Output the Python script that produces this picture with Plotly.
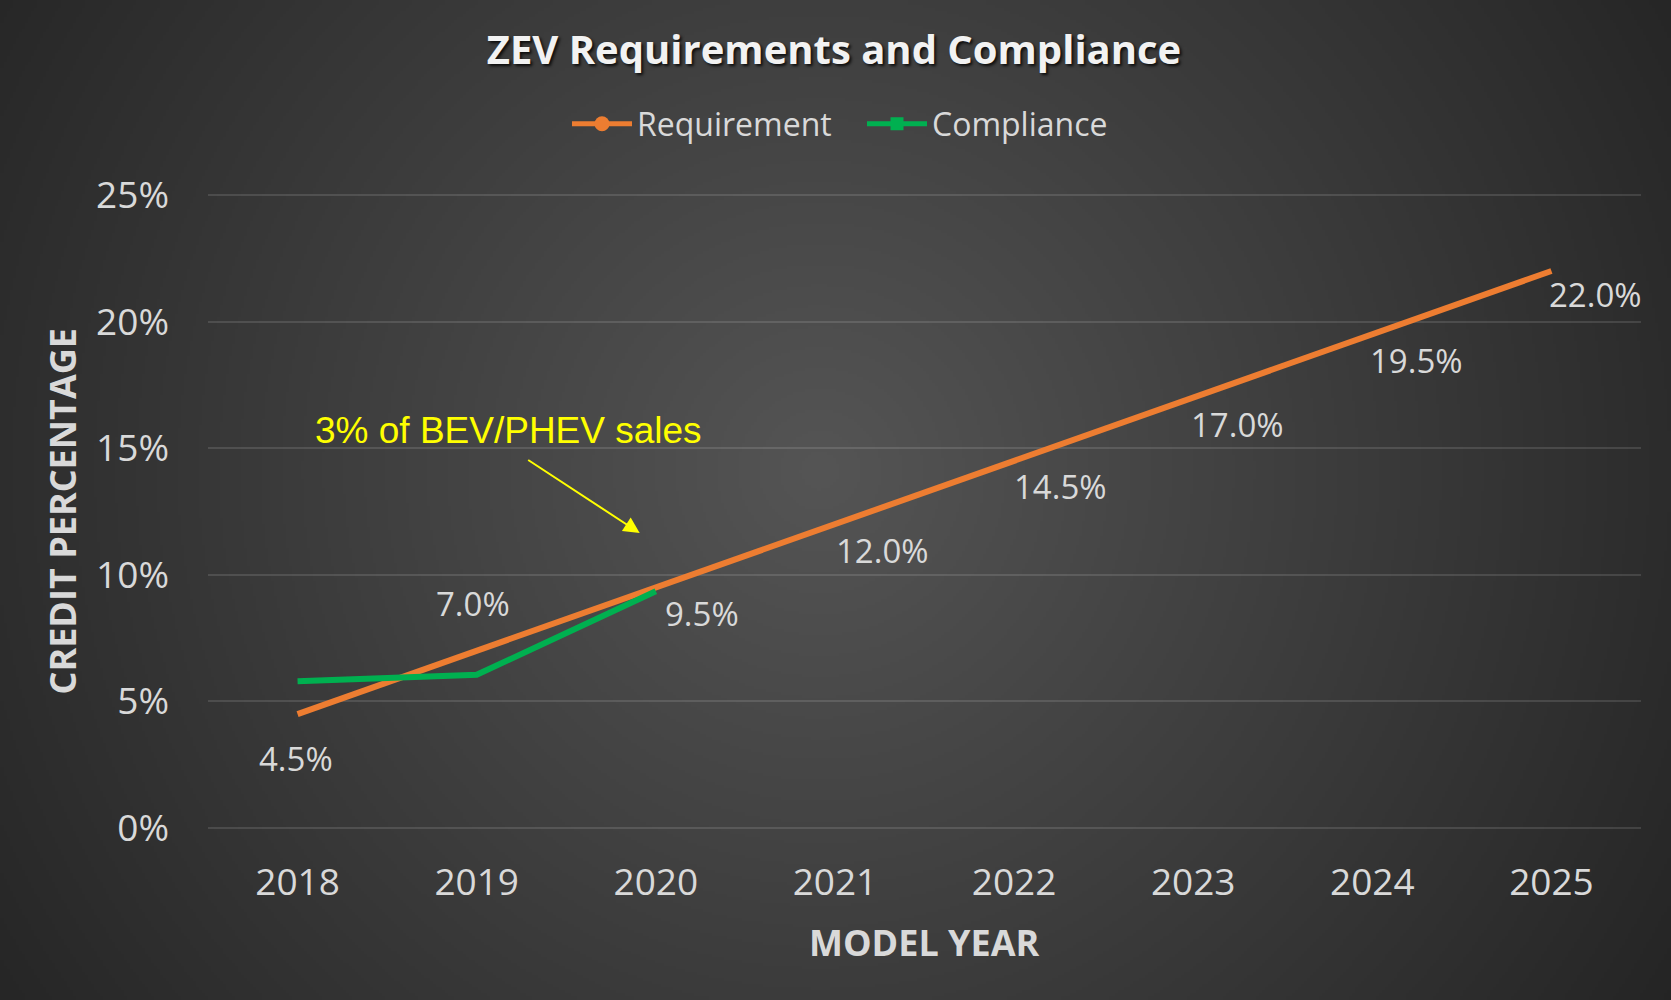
import base64
import struct
import zlib

import numpy as np
import plotly.graph_objects as go

# ---------------- data ----------------
years = [2018, 2019, 2020, 2021, 2022, 2023, 2024, 2025]
requirement = [0.045, 0.070, 0.095, 0.120, 0.145, 0.170, 0.195, 0.220]
compliance_years = [2018, 2019, 2020]
compliance = [0.058, 0.0605, 0.0935]
y_ticks = [0, 0.05, 0.10, 0.15, 0.20, 0.25]

# label offsets (style) for requirement data labels: (xshift, yshift) px
label_shifts = [(-2, -44), (-4, 47), (46, -26), (48, -26), (46, -26), (44, -27), (44, -26), (44, -24)]

W, H = 1671, 1000
TXT = "#D9D9D9"
FONT = "Open Sans"

# plot-area pixel geometry (style)
X0, X1 = 208, 1641
Y_ZERO, Y_TOP = 828, 195
PAD = 0.001  # small range padding so edge gridlines are drawn
px_per_unit = (Y_ZERO - Y_TOP) / 0.25
y_bot_px = Y_ZERO + PAD * px_per_unit
y_top_px = Y_TOP - PAD * px_per_unit


# ---------------- background radial gradient (style image) ----------------
def make_png(arr):
    h, w = arr.shape
    raw = b"".join(b"\x00" + arr[i].astype(np.uint8).tobytes() for i in range(h))

    def chunk(tag, data):
        c = struct.pack(">I", len(data)) + tag + data
        return c + struct.pack(">I", zlib.crc32(tag + data) & 0xFFFFFFFF)

    png = b"\x89PNG\r\n\x1a\n"
    png += chunk(b"IHDR", struct.pack(">IIBBBBB", w, h, 8, 0, 0, 0, 0))
    png += chunk(b"IDAT", zlib.compress(raw, 9))
    png += chunk(b"IEND", b"")
    return "data:image/png;base64," + base64.b64encode(png).decode()


gw, gh = W // 3, H // 3
gx = (np.arange(gw) + 0.5) * 3
gy = (np.arange(gh) + 0.5) * 3
GX, GY = np.meshgrid(gx, gy)
dist = np.sqrt((GX - 820) ** 2 + (GY - 470) ** 2)
gray = np.clip(85 - 47 * (dist / 975), 36, 90)
bg_src = make_png(gray)

# ---------------- figure ----------------
fig = go.Figure()

fig.add_trace(go.Scatter(
    x=years, y=requirement, mode="lines", name="Requirement",
    line=dict(color="#ED7D31", width=6), showlegend=False, hoverinfo="x+y",
))
fig.add_trace(go.Scatter(
    x=compliance_years, y=compliance, mode="lines", name="Compliance",
    line=dict(color="#00B050", width=6), showlegend=False, hoverinfo="x+y",
))
# legend entries (line + marker symbols)
fig.add_trace(go.Scatter(
    x=[None], y=[None], mode="lines+markers", name="Requirement",
    line=dict(color="#ED7D31", width=5), marker=dict(symbol="circle", size=15, color="#ED7D31"),
))
fig.add_trace(go.Scatter(
    x=[None], y=[None], mode="lines+markers", name="Compliance",
    line=dict(color="#00B050", width=5), marker=dict(symbol="square", size=13, color="#00B050"),
))

annotations = []
for yr, v, (dx, dy) in zip(years, requirement, label_shifts):
    annotations.append(dict(
        x=yr, y=v, xref="x", yref="y", text=f"{v*100:.1f}%", showarrow=False,
        xshift=dx, yshift=dy, font=dict(family=FONT, size=33, color=TXT),
    ))

# yellow note and arrow
annotations.append(dict(
    x=2019.176, y=0.157, xref="x", yref="y", text="3% of BEV/PHEV sales",
    showarrow=False, font=dict(family="Liberation Sans, Arial", size=37, color="#FFFF00"),
))
annotations.append(dict(
    x=2019.91, y=0.1165, xref="x", yref="y", text="", showarrow=True,
    ax=-113, ay=-74, arrowcolor="#FFFF00", arrowwidth=2, arrowhead=2, arrowsize=1.6,
))

# axis titles
annotations.append(dict(
    x=62 / W, y=1 - 511.5 / H, xref="paper", yref="paper", text="<b>CREDIT PERCENTAGE</b>",
    textangle=-90, showarrow=False, xanchor="center", yanchor="middle",
    font=dict(family=FONT, size=36, color=TXT),
))
annotations.append(dict(
    x=924.5 / W, y=1 - 942 / H, xref="paper", yref="paper", text="<b>MODEL YEAR</b>",
    showarrow=False, xanchor="center", yanchor="middle",
    font=dict(family=FONT, size=36, color=TXT),
))

fig.update_layout(
    width=W, height=H,
    margin=dict(l=0, r=0, t=0, b=0, autoexpand=False),
    paper_bgcolor="#2b2b2b",
    plot_bgcolor="rgba(0,0,0,0)",
    images=[dict(source=bg_src, xref="paper", yref="paper", x=0, y=1, sizex=1, sizey=1,
                 sizing="stretch", xanchor="left", yanchor="top", layer="below")],
    title=dict(
        text="<b>ZEV Requirements and Compliance</b>", x=834 / W, xanchor="center",
        y=1 - 50 / H, yanchor="middle",
        font=dict(family=FONT, size=40, color="#F2F2F2", shadow="2px 2px 3px rgba(0,0,0,0.8)"),
    ),
    legend=dict(
        orientation="h", x=567 / W, xanchor="left", y=1 - 124 / H, yanchor="middle",
        font=dict(family=FONT, size=32, color=TXT), bgcolor="rgba(0,0,0,0)",
        entrywidth=220, itemwidth=60,
    ),
    xaxis=dict(
        domain=[X0 / W, X1 / W], range=[2017.5, 2025.5], tickvals=years,
        ticktext=[str(y) for y in years], showgrid=False, zeroline=False, showline=False,
        tickfont=dict(family=FONT, size=37, color=TXT),
        ticklabelstandoff=26,
        fixedrange=True, automargin=False,
    ),
    yaxis=dict(
        domain=[1 - y_bot_px / H, 1 - y_top_px / H], range=[-PAD, 0.25 + PAD],
        tickvals=y_ticks, tickformat=".0%",
        showgrid=True, gridcolor="rgba(255,255,255,0.12)", gridwidth=2, zeroline=False,
        showline=False, tickfont=dict(family=FONT, size=37, color=TXT), ticklabelstandoff=38,
        fixedrange=True, automargin=False,
    ),
    annotations=annotations,
    hovermode="closest",
)

fig.write_html(
    "out.html",
    config={"displayModeBar": False},
    post_script="document.body.style.margin='0';document.body.style.overflow='hidden';",
)
